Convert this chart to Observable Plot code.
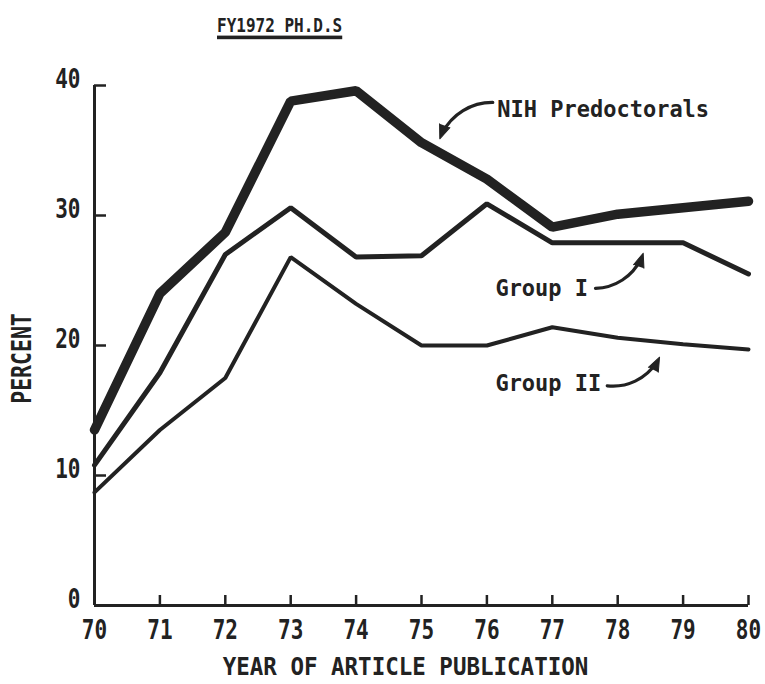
<!DOCTYPE html>
<html><head><meta charset="utf-8">
<script src="https://cdn.jsdelivr.net/npm/d3@7"></script>
<script src="https://cdn.jsdelivr.net/npm/@observablehq/plot@0.6"></script>
<style>
body{margin:0;background:#fff;width:765px;height:684px;overflow:hidden;position:relative;}
#title{position:absolute;left:217px;top:14px;font:bold 16px "DejaVu Sans Mono",monospace;color:#222;
  text-decoration:underline;text-decoration-thickness:3px;text-underline-offset:3px;
  transform:scaleY(1.2);transform-origin:top left;}
#chart{position:absolute;left:0;top:50px;}
</style></head><body>
<div id="title">FY1972 PH.D.S</div>
<div id="chart"></div>
<script>
const years = [70,71,72,73,74,75,76,77,78,79,80];
const nih    = [13.5,24.0,28.7,38.8,39.6,35.6,32.8,29.1,30.1,30.6,31.1];
const group1 = [10.8,17.9,27.0,30.6,26.8,26.9,30.9,27.9,27.9,27.9,25.5];
const group2 = [8.7,13.5,17.5,26.8,23.2,20.0,20.0,21.4,20.6,20.1,19.7];
const xTicks = [70,71,72,73,74,75,76,77,78,79,80];
const yTicks = [0,10,20,30,40];

const labelText = ["NIH Predoctorals","Group I","Group II"];
const labelX = [76.16,76.13,76.13];
const labelY = [38.2,24.4,17.1];
const arrowX1 = [76.09,77.66,77.84];
const arrowY1 = [38.7,24.4,16.9];
const arrowX2 = [75.28,78.39,78.64];
const arrowY2 = [35.9,27.1,19.1];
const BEND = -35;

const ink = "#222";
const font = "'DejaVu Sans Mono', monospace";
const mk = (vals) => years.map((y,i)=>({year:y, value:vals[i]}));
const labels = labelText.map((t,i)=>({t, x:labelX[i], y:labelY[i]}));

const frame = {
  width: 765, height: 634,
  marginTop: 35, marginBottom: 79, marginLeft: 94, marginRight: 17,
  x: {domain: [70,80]},
  y: {domain: [0,40]}
};
// read the scales to orient the filled arrowheads along each arc's end tangent
const probe = Plot.plot({...frame, marks: []});
const sx = probe.scale("x"), sy = probe.scale("y");
const arrows = arrowX1.map((x,i)=>{
  const px1 = sx.apply(x), py1 = sy.apply(arrowY1[i]);
  const px2 = sx.apply(arrowX2[i]), py2 = sy.apply(arrowY2[i]);
  const a = Math.atan2(py2 - py1, px2 - px1) * 180 / Math.PI + BEND;
  return {x1:x, y1:arrowY1[i], x2:arrowX2[i], y2:arrowY2[i], rot: a + 90};
});

const plot = Plot.plot({
  ...frame,
  style: {fontFamily: font, fontWeight: "bold", color: ink, background: "#fff"},
  marks: [
    Plot.axisX({ticks: xTicks.slice(1), tickSize: -10, tickFormat: () => "", strokeWidth: 2.5, label: null}),
    Plot.axisX({ticks: xTicks, tickSize: 0, tickPadding: 14, fontSize: 21, tickFormat: d => String(d), label: null}),
    Plot.axisY({ticks: yTicks.slice(1), tickSize: -12, tickFormat: () => "", strokeWidth: 2.5, label: null}),
    Plot.axisY({ticks: yTicks, tickSize: 0, tickPadding: 14, fontSize: 21, dy: -6, tickFormat: d => String(d), label: null}),
    Plot.ruleX([70], {stroke: ink, strokeWidth: 3}),
    Plot.ruleY([0], {stroke: ink, strokeWidth: 3}),
    Plot.lineY(mk(group2), {x: "year", y: "value", stroke: ink, strokeWidth: 4, strokeLinejoin: "miter"}),
    Plot.lineY(mk(group1), {x: "year", y: "value", stroke: ink, strokeWidth: 5, strokeLinejoin: "miter"}),
    Plot.lineY(mk(nih), {x: "year", y: "value", stroke: ink, strokeWidth: 9.5, strokeLinejoin: "miter"}),
    Plot.text(labels, {x: "x", y: "y", text: "t", textAnchor: "start", lineAnchor: "middle", fontSize: 22, fontWeight: "bold", fill: ink}),
    Plot.arrow(arrows, {x1: "x1", y1: "y1", x2: "x2", y2: "y2", bend: BEND, stroke: ink, strokeWidth: 3.2, headLength: 0, insetEnd: 6}),
    Plot.vector(arrows, {x: "x2", y: "y2", rotate: "rot", length: 14, r: 5.5, shape: "spike", anchor: "end", fill: ink, stroke: ink, strokeWidth: 1}),
    Plot.text(["PERCENT"], {frameAnchor: "left", textAnchor: "middle", lineAnchor: "middle", dx: -72, dy: 13, rotate: -90, fontSize: 21.5, fontWeight: "bold", fill: ink}),
    Plot.text(["YEAR OF ARTICLE PUBLICATION"], {frameAnchor: "bottom", textAnchor: "middle", lineAnchor: "middle", dx: -16, dy: 62, fontSize: 22.5, fontWeight: "bold", fill: ink})
  ]
});
document.getElementById("chart").appendChild(plot);
// stretch glyphs vertically to mimic the condensed typewriter face
const stretch = {"21px": 1.3, "22px": 1.08, "22.5px": 1.1, "21.5px": 1.2};
plot.querySelectorAll("text").forEach(t => {
  const k = stretch[getComputedStyle(t).fontSize];
  if (!k) return;
  const tr = t.getAttribute("transform") || "";
  t.setAttribute("transform", `${tr} scale(1,${k})`);
});
</script>
</body></html>
